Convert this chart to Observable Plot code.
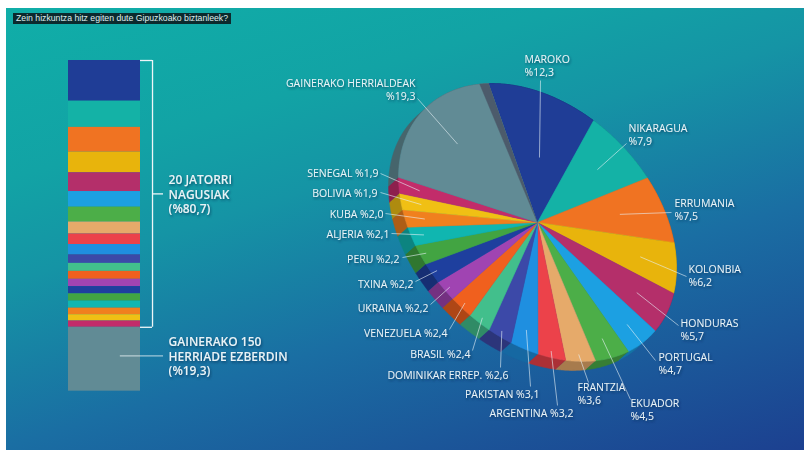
<!DOCTYPE html>
<html><head><meta charset="utf-8">
<script src="https://cdn.jsdelivr.net/npm/d3@7"></script>
<script src="https://cdn.jsdelivr.net/npm/@observablehq/plot@0.6"></script>
<style>
body{margin:0;background:#fff;}
#wrap{position:relative;width:809px;height:450px;overflow:hidden;background:#fff;}
#bg{position:absolute;left:6px;top:8px;width:798px;height:442px;
 background:linear-gradient(163deg,#10aea8 0%,#12a3a5 25%,#1594a5 40%,#1a6ea3 64%,#1c4090 100%);}
#title{position:absolute;left:13px;top:13px;height:11px;padding:0 3px;background:#0c2a2e;color:#dfeeee;
 font:8.7px/11px "Liberation Sans",Arial,sans-serif;white-space:nowrap;}
.layer{position:absolute;left:0;top:0;}
</style></head><body>
<div id="wrap"><div id="bg"></div><div id="title"></div></div>
<script>
// ---------- data ----------
const titleText = "Zein hizkuntza hitz egiten dute Gipuzkoako biztanleek?";
const countries = ["MAROKO","NIKARAGUA","ERRUMANIA","KOLONBIA","HONDURAS","PORTUGAL","EKUADOR","FRANTZIA",
  "ARGENTINA","PAKISTAN","DOMINIKAR ERREP.","BRASIL","VENEZUELA","UKRAINA","TXINA","PERU","ALJERIA","KUBA",
  "BOLIVIA","SENEGAL","GAINERAKO HERRIALDEAK"];
const shares = [12.3,7.9,7.5,6.2,5.7,4.7,4.5,3.6,3.2,3.1,2.6,2.4,2.4,2.2,2.2,2.2,2.1,2.0,1.9,1.9,19.3];
const sliceColors = ["#1f3d96","#14b2a6","#f07322","#e8b40c","#b42f6a","#1ca0e2","#4cae48","#e6aa6a",
  "#ec424a","#1f8fe0","#3c49a8","#42bf8c","#f0601e","#a044b2","#1e3f9e","#42a442","#10b6b0","#f0801e",
  "#f0c014","#c22c6a","#618b95"];
const groupNames = ["20 JATORRI\nNAGUSIAK","GAINERAKO 150\nHERRIADE EZBERDIN"];
const groupShares = [80.7, 19.3];

// ---------- layout (pixels) ----------
// [textX, textY, anchor, leaderOuterX, leaderOuterY, leaderInnerRadius]
const labelPos = [
  [524,65,"start",540,80,0.5],[628,134,"start",626,143,0.7],[674,209,"start",671,212,0.65],
  [688,275,"start",686,276,0.74],[680,329,"start",678,325,0.77],[658,363,"start",655,360,0.85],
  [630,409,"start",630,399,0.86],[577,393,"start",588,382,0.95],
  [573,412,"end",557,405,0.95],[539,393,"end",530,386,0.85],[508,374,"end",500,367,0.95],
  [470,353,"end",472,350,0.95],[447,332,"end",449,329,0.95],[428,307,"end",430,304,0.95],
  [413,283,"end",415,281,0.95],[399,258,"end",402,257,0.95],[389,233,"end",391,233,0.9],
  [383,213,"end",385,213,0.85],[377,192,"end",380,192,0.85],[378,172,"end",380,173,0.85],
  [415,89,"end",417,98,0.7]];
const PIE = {cx:537, cy:222, a:160, b:114, start:-146*Math.PI/180, dx:-10, dy:9};

document.getElementById("title").textContent = titleText;
const fmt = v => "%" + v.toFixed(1).replace(".", ",");
const rows = countries.map((name,i)=>({name, share:shares[i], color:sliceColors[i],
  wall:d3.color(sliceColors[i]).darker(0.9).formatHex()}));

function proj(t, r=1, ox=0, oy=0){
  const u = PIE.a*r*Math.cos(t), v = PIE.b*r*Math.sin(t);
  return {x: PIE.cx + ox + (u - v)*Math.SQRT1_2, y: PIE.cy + oy + (u + v)*Math.SQRT1_2};
}
function arcPts(t0, t1, ox=0, oy=0){
  const n = Math.max(2, Math.ceil((t1-t0)/(0.5*Math.PI/180)));
  return d3.range(n+1).map(k => proj(t0 + (t1-t0)*k/n, 1, ox, oy));
}
const arcs = d3.pie().sort(null).value(d=>d.share).startAngle(PIE.start).endAngle(PIE.start+2*Math.PI)(rows);

const faces = [], walls = [];
arcs.forEach((a,i)=>{
  const pts = arcPts(a.startAngle, a.endAngle);
  [{x:PIE.cx,y:PIE.cy}, ...pts].forEach(p=>faces.push({...p, id:i, fill:a.data.color}));
  const back = arcPts(a.startAngle, a.endAngle, PIE.dx, PIE.dy).reverse();
  [...pts, ...back].forEach(p=>walls.push({...p, id:i, fill:a.data.wall}));
});
const last = arcs[arcs.length-1];
const strip = [{x:PIE.cx,y:PIE.cy}, ...arcPts(last.endAngle - 4*Math.PI/180, last.endAngle)].map(p=>({...p, id:0}));

const leaders = arcs.map((a,i)=>{
  const L = labelPos[i], mid = (a.startAngle + a.endAngle)/2, p = proj(mid, L[5]);
  return {x1:L[3], y1:L[4], x2:p.x, y2:p.y};
});
const labels = arcs.map((a,i)=>{
  const L = labelPos[i], two = i < 8 || i === arcs.length-1;
  return {x:L[0], y:L[1], anchor:L[2], text: a.data.name + (two ? "\n" : " ") + fmt(a.data.share)};
});
const labelStyle = {x:"x", y:"y", text:"text", lineHeight:1.25, fontSize:10.5,
  fontFamily:"'Open Sans', sans-serif", fill:"#eaf3f7"};

// ---------- bar (left) ----------
const topSum = d3.sum(shares.slice(0, 20));
const grayMid = topSum + shares[20]/2 - 1;
const barPlot = Plot.plot({
  width:809, height:450, style:{background:"transparent", overflow:"visible"},
  x:{domain:[0,1], range:[68,140], axis:null},
  y:{domain:[0,100], range:[60,391], axis:null},
  color:{type:"identity"},
  marks:[
    Plot.rectY(rows, {x1:0, x2:1, y:"share", fill:"color"}),
    Plot.ruleX([1.167], {y1:0, y2:topSum, stroke:"#eef6f8", strokeWidth:1.3}),
    Plot.ruleY([0, topSum], {x1:1, x2:1.167, stroke:"#eef6f8", strokeWidth:1.3}),
    Plot.ruleY([topSum/2], {x1:1.167, x2:1.32, stroke:"#eef6f8", strokeWidth:1.3}),
    Plot.ruleY([grayMid], {x1:0.72, x2:1.32, stroke:"#eef6f8", strokeOpacity:0.8, strokeWidth:1}),
    Plot.text([0,1], {x:1.39, y:i => i===0 ? topSum/2 : grayMid,
      text:i => groupNames[i] + "\n(" + fmt(groupShares[i]) + ")",
      textAnchor:"start", lineHeight:1.22, fontSize:12, fontWeight:600,
      fontFamily:"'Open Sans', sans-serif", fill:"#e9f2f6"})
  ]
});
barPlot.classList.add("layer");

// ---------- pie (right) ----------
const piePlot = Plot.plot({
  width:809, height:450, style:{background:"transparent", overflow:"visible"},
  x:{domain:[0,809], range:[0,809], axis:null},
  y:{domain:[0,450], range:[0,450], axis:null},
  color:{type:"identity"},
  marks:[
    Plot.line(walls, {x:"x", y:"y", z:"id", fill:"fill", stroke:"fill", strokeWidth:0.6}),
    Plot.line(faces, {x:"x", y:"y", z:"id", fill:"fill", stroke:"fill", strokeWidth:0.6}),
    Plot.line(strip, {x:"x", y:"y", z:"id", fill:"#4c5b6b", stroke:"#4c5b6b", strokeWidth:0.5}),
    Plot.link(leaders, {x1:"x1", y1:"y1", x2:"x2", y2:"y2", stroke:"#e8f2f6", strokeOpacity:0.75, strokeWidth:0.8}),
    Plot.text(labels.filter(d => d.anchor === "start"), {...labelStyle, textAnchor:"start"}),
    Plot.text(labels.filter(d => d.anchor === "end"), {...labelStyle, textAnchor:"end"})
  ]
});
piePlot.classList.add("layer");

const wrap = document.getElementById("wrap");
wrap.appendChild(barPlot);
wrap.appendChild(piePlot);

// text shadow filter
const defs = d3.select(barPlot).insert("defs", ":first-child");
const f = defs.append("filter").attr("id","ts").attr("x","-20%").attr("y","-40%").attr("width","140%").attr("height","200%");
f.append("feDropShadow").attr("dx",1).attr("dy",1.5).attr("stdDeviation",1.1)
  .attr("flood-color","#06284a").attr("flood-opacity",0.6);
for (const svg of [barPlot, piePlot]) {
  svg.querySelectorAll("g[aria-label='text']").forEach(g => g.setAttribute("filter","url(#ts)"));
}
</script>
</body></html>
